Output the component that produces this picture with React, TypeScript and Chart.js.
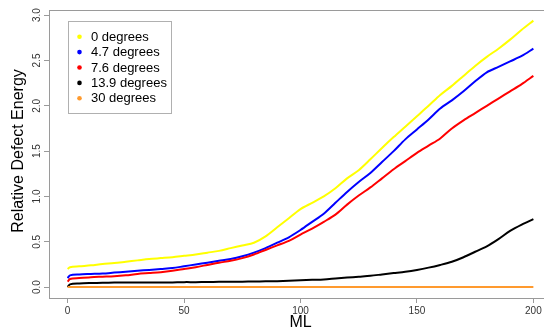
import React, { useEffect, useRef } from "react";
import { Chart, registerables } from "chart.js";

Chart.register(...registerables);

const mlValues = [0, 1, 5, 10, 15, 20, 25, 30, 35, 40, 45, 50, 55, 60, 65, 70, 75, 80, 85, 90, 95, 100, 105, 110, 115, 120, 125, 130, 135, 140, 145, 150, 155, 160, 165, 170, 175, 180, 185, 190, 195, 200];

const deg0 = [0.20, 0.22, 0.23, 0.24, 0.255, 0.265, 0.28, 0.295, 0.31, 0.32, 0.33, 0.345, 0.36, 0.38, 0.40, 0.43, 0.46, 0.49, 0.56, 0.66, 0.76, 0.86, 0.93, 1.00, 1.09, 1.20, 1.29, 1.41, 1.535, 1.655, 1.77, 1.885, 2.00, 2.12, 2.22, 2.33, 2.44, 2.54, 2.63, 2.73, 2.84, 2.94];
const deg4_7 = [0.10, 0.13, 0.14, 0.145, 0.15, 0.16, 0.17, 0.18, 0.19, 0.20, 0.21, 0.23, 0.25, 0.27, 0.29, 0.31, 0.34, 0.38, 0.43, 0.49, 0.55, 0.63, 0.72, 0.81, 0.93, 1.05, 1.16, 1.26, 1.38, 1.50, 1.63, 1.74, 1.85, 1.97, 2.06, 2.16, 2.27, 2.37, 2.43, 2.49, 2.55, 2.63];
const deg7_6 = [0.06, 0.09, 0.10, 0.11, 0.115, 0.12, 0.13, 0.145, 0.155, 0.165, 0.18, 0.20, 0.22, 0.245, 0.27, 0.29, 0.32, 0.36, 0.41, 0.46, 0.51, 0.58, 0.645, 0.72, 0.80, 0.91, 1.01, 1.10, 1.20, 1.30, 1.39, 1.48, 1.56, 1.64, 1.75, 1.84, 1.92, 2.00, 2.08, 2.16, 2.24, 2.33];
const deg13_9 = [0.0, 0.03, 0.04, 0.045, 0.048, 0.05, 0.05, 0.05, 0.05, 0.05, 0.052, 0.055, 0.055, 0.057, 0.058, 0.06, 0.06, 0.062, 0.064, 0.066, 0.07, 0.075, 0.08, 0.085, 0.095, 0.105, 0.115, 0.125, 0.14, 0.155, 0.17, 0.19, 0.215, 0.245, 0.28, 0.33, 0.39, 0.45, 0.53, 0.62, 0.69, 0.75];
const deg30 = [0.0, 0.0, 0.0, 0.0, 0.0, 0.0, 0.0, 0.0, 0.0, 0.0, 0.0, 0.0, 0.0, 0.0, 0.0, 0.0, 0.0, 0.0, 0.0, 0.0, 0.0, 0.0, 0.0, 0.0, 0.0, 0.0, 0.0, 0.0, 0.0, 0.0, 0.0, 0.0, 0.0, 0.0, 0.0, 0.0, 0.0, 0.0, 0.0, 0.0, 0.0, 0.0];

const seriesLabels = ["0 degrees", "4.7 degrees", "7.6 degrees", "13.9 degrees", "30 degrees"];
const seriesColors = ["#FFFF00", "#0000FF", "#FF0000", "#000000", "#FF9A2E"];
const seriesValues = [deg0, deg4_7, deg7_6, deg13_9, deg30];

const xTicks = [0, 50, 100, 150, 200];
const yTicks = [0, 0.5, 1.0, 1.5, 2.0, 2.5, 3.0];
const yTickLabels = ["0.0", "0.5", "1.0", "1.5", "2.0", "2.5", "3.0"];

const FONT = "'Liberation Sans', Arial, Helvetica, sans-serif";

const overlayPlugin = {
  id: "rOverlay",
  afterDraw(chart: any) {
    const ctx = chart.ctx;
    const area = chart.chartArea;
    const ys = chart.scales.y;
    ctx.save();
    // box
    ctx.strokeStyle = "#9a9a9a";
    ctx.lineWidth = 1;
    ctx.strokeRect(Math.round(area.left) + 0.5, Math.round(area.top) + 0.5, Math.round(area.right - area.left), Math.round(area.bottom - area.top));
    // y tick labels rotated
    ctx.fillStyle = "#333";
    ctx.font = `10px ${FONT}`;
    ctx.textAlign = "center";
    ctx.textBaseline = "middle";
    yTicks.forEach((v, i) => {
      const y = ys.getPixelForValue(v);
      ctx.save();
      ctx.translate(37, y);
      ctx.rotate(-Math.PI / 2);
      ctx.fillText(yTickLabels[i], 0, 0);
      ctx.restore();
    });
    // y title
    ctx.fillStyle = "#000";
    ctx.font = `16px ${FONT}`;
    ctx.save();
    ctx.translate(19, 151);
    ctx.rotate(-Math.PI / 2);
    ctx.fillText("Relative Defect Energy", 0, 0);
    ctx.restore();
    // legend
    const lx = 68, ly = 21, lw = 103, lh = 92;
    ctx.fillStyle = "#fff";
    ctx.fillRect(lx, ly, lw, lh);
    ctx.strokeStyle = "#b0b0b0";
    ctx.strokeRect(lx + 0.5, ly + 0.5, lw, lh);
    ctx.font = `13px ${FONT}`;
    ctx.textAlign = "left";
    chart.data.datasets.forEach((ds: any, i: number) => {
      const ry = 36.7 + i * 15.4;
      ctx.fillStyle = ds.borderColor;
      ctx.beginPath();
      ctx.arc(79.5, ry, 2.3, 0, Math.PI * 2);
      ctx.fill();
      ctx.fillStyle = "#000";
      ctx.fillText(ds.label, 91, ry + 0.5);
    });
    ctx.restore();
  },
};

export default function App() {
  const ref = useRef<HTMLCanvasElement | null>(null);
  useEffect(() => {
    if (!ref.current) return;
    const chart = new Chart(ref.current, {
      type: "line",
      data: {
        datasets: seriesLabels.map((label, i) => ({
          label,
          data: mlValues.map((x, j) => ({ x, y: seriesValues[i][j] })),
          borderColor: seriesColors[i],
          backgroundColor: seriesColors[i],
          borderWidth: 2,
          pointRadius: 0,
          tension: 0.3,
          fill: false,
          order: seriesLabels.length - i,
        })),
      },
      options: {
        responsive: false,
        animation: false,
        layout: { padding: { top: 10, left: 0, right: 0, bottom: 0 } },
        plugins: { legend: { display: false }, tooltip: { enabled: false } },
        scales: {
          x: {
            type: "linear",
            min: -8,
            max: 208,
            afterBuildTicks: (s: any) => {
              s.ticks = xTicks.map((v) => ({ value: v }));
            },
            afterFit: (s: any) => {
              s.height = 36;
            },
            grid: { drawOnChartArea: false, drawTicks: true, tickLength: 5, color: "#9a9a9a" },
            border: { display: false },
            ticks: {
              color: "#333",
              font: { size: 10, family: FONT },
              padding: 2,
              maxRotation: 0,
              minRotation: 0,
              callback: (v: any) => String(v),
            },
            title: {
              display: true,
              text: "ML",
              color: "#000",
              font: { size: 16, family: FONT },
              padding: { top: 0, bottom: 2 },
            },
          },
          y: {
            type: "linear",
            min: -0.12,
            max: 3.057,
            afterBuildTicks: (s: any) => {
              s.ticks = yTicks.map((v) => ({ value: v }));
            },
            afterFit: (s: any) => {
              s.width = 49;
            },
            grid: { drawOnChartArea: false, drawTicks: true, tickLength: 5, color: "#9a9a9a" },
            border: { display: false },
            ticks: { display: false },
          },
        },
      },
      plugins: [overlayPlugin],
    } as any);
    return () => chart.destroy();
  }, []);
  return (
    <div style={{ position: "absolute", left: 0, top: 0, width: 544, height: 334, overflow: "hidden", background: "#fff" }}>
      <canvas ref={ref} width={552} height={334} style={{ display: "block" }} />
    </div>
  );
}
